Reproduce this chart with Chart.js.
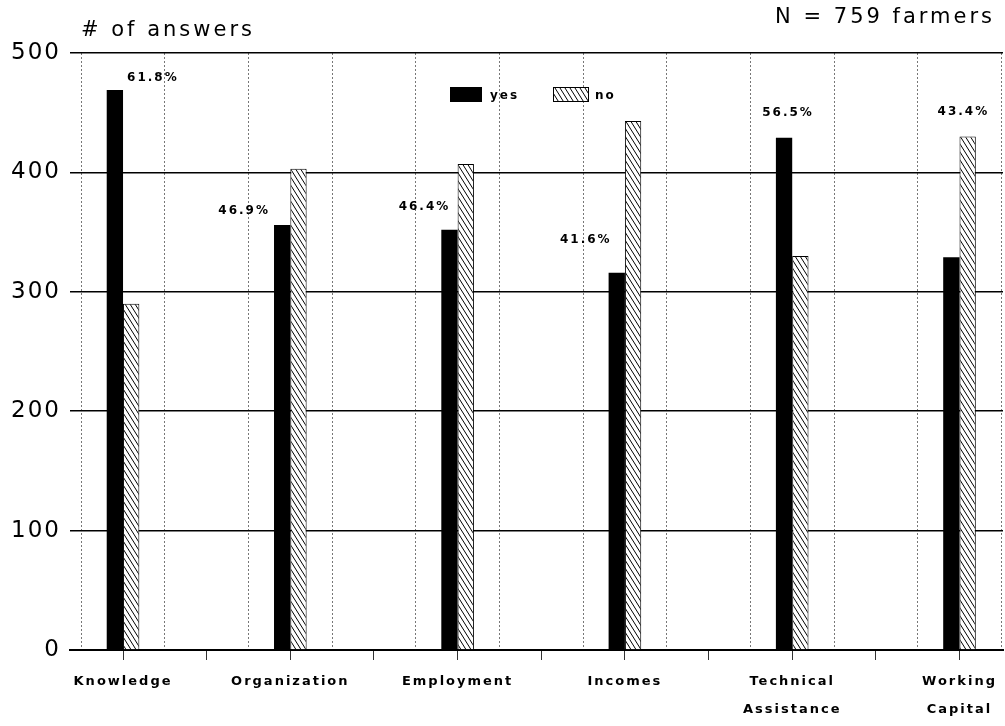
<!DOCTYPE html>
<html>
<head>
<meta charset="utf-8">
<script src="https://cdn.jsdelivr.net/npm/chart.js@4.4.1/dist/chart.umd.min.js"></script>
<style>
  html, body { margin: 0; padding: 0; background: #fff; }
  #wrap { width: 1005px; height: 726px; }
</style>
</head>
<body>
<div id="wrap"><canvas id="chart1"></canvas></div>
<script>
// Chart Data
const categories = ['Knowledge', 'Organization', 'Employment', 'Incomes', ['Technical', 'Assistance'], ['Working', 'Capital']];
const yesValues = [469, 356, 352, 316, 429, 329];
const noValues = [290, 403, 407, 443, 330, 430];
const yesShare = ['61.8%', '46.9%', '46.4%', '41.6%', '56.5%', '43.4%'];
const yTicks = [0, 100, 200, 300, 400, 500];
const yTitle = '# of answers';
const sampleNote = 'N = 759 farmers';

// label offsets from the top of each "yes" bar (px)
const shareOffsets = [[38, -12], [-38, -14], [-25, -23], [-31, -33], [4, -25], [12, -145]];

const FONT = 'DejaVu Sans';
const X_MIN = -0.317;
const X_MAX = 5.26;

function hatchPattern() {
    const c = document.createElement('canvas');
    c.width = 5;
    c.height = 8;
    const g = c.getContext('2d');
    g.fillStyle = '#fff';
    g.fillRect(0, 0, 5, 8);
    g.strokeStyle = '#000';
    g.lineWidth = 1;
    g.beginPath();
    g.moveTo(-5, -8); g.lineTo(10, 16);
    g.moveTo(-10, -8); g.lineTo(5, 16);
    g.moveTo(0, -8); g.lineTo(15, 16);
    g.stroke();
    return g.createPattern(c, 'repeat');
}

const noFill = hatchPattern();

function stepTicks(from, to, step) {
    const out = [];
    for (let v = from; v <= to + 1e-9; v += step) out.push({ value: Math.round(v * 100) / 100 });
    return out;
}

const overlay = {
    id: 'overlay',
    beforeDraw(chart) {
        chart.ctx.letterSpacing = '2px';
    },
    afterDatasetsDraw(chart) {
        const ctx = chart.ctx;
        const meta = chart.getDatasetMeta(0);
        ctx.save();
        ctx.fillStyle = '#000';
        ctx.font = 'bold 12px ' + FONT;
        ctx.textAlign = 'center';
        ctx.textBaseline = 'middle';
        meta.data.forEach((bar, i) => {
            ctx.fillText(yesShare[i], bar.x + shareOffsets[i][0], bar.y + shareOffsets[i][1]);
        });
        ctx.restore();
    },
    afterDraw(chart) {
        const ctx = chart.ctx;
        const area = chart.chartArea;
        ctx.save();
        ctx.fillStyle = '#000';
        ctx.textBaseline = 'middle';
        ctx.letterSpacing = '3px';
        ctx.font = '21px ' + FONT;
        ctx.textAlign = 'left';
        ctx.fillText(yTitle, area.left + 11, area.top - 22);
        ctx.textAlign = 'right';
        ctx.fillText(sampleNote, area.right - 8, area.top - 35);

        // legend
        ctx.letterSpacing = '2px';
        const ds = chart.data.datasets;
        const lx = area.left + 380;
        const ly = area.top + 34;
        ctx.font = 'bold 12px ' + FONT;
        ctx.textAlign = 'left';
        ctx.fillStyle = ds[0].backgroundColor;
        ctx.fillRect(lx, ly, 32, 15);
        ctx.fillStyle = '#000';
        ctx.fillText(ds[0].label, lx + 40, ly + 9);
        ctx.fillStyle = ds[1].backgroundColor;
        ctx.fillRect(lx + 103, ly, 36, 15);
        ctx.strokeStyle = '#000';
        ctx.lineWidth = 1;
        ctx.strokeRect(lx + 103.5, ly + 0.5, 35, 14);
        ctx.fillStyle = '#000';
        ctx.fillText(ds[1].label, lx + 145, ly + 9);
        ctx.restore();
    }
};

const ctx = document.getElementById('chart1').getContext('2d');
const chart1 = new Chart(ctx, {
    type: 'bar',
    data: {
        datasets: [
            {
                label: 'yes',
                data: yesValues.map((v, i) => ({ x: i, y: v })),
                backgroundColor: '#000',
                borderWidth: 0,
            },
            {
                label: 'no',
                data: noValues.map((v, i) => ({ x: i, y: v })),
                backgroundColor: noFill,
                borderColor: '#000',
                borderWidth: 1,
            }
        ],
    },
    options: {
        responsive: true,
        maintainAspectRatio: false,
        animation: false,
        devicePixelRatio: 1,
        // ruler is the 0.5-step tick spacing here, so this gives ~16px per bar
        categoryPercentage: 0.39,
        barPercentage: 1,
        layout: {
            padding: { top: 53, right: 2, left: 0, bottom: 0 },
        },
        plugins: {
            legend: { display: false },
            tooltip: { enabled: false },
        },
        scales: {
            x: {
                type: 'linear',
                position: 'bottom',
                offset: false,
                min: X_MIN,
                max: X_MAX,
                afterBuildTicks: s => { s.ticks = stepTicks(0, 5, 0.5); },
                afterFit: s => { s.height = 76; s.paddingLeft = 0; s.paddingRight = 0; },
                grid: {
                    offset: false,
                    drawOnChartArea: false,
                    drawTicks: true,
                    tickLength: 10,
                    tickColor: '#333',
                    tickWidth: 1,
                },
                border: { display: true, color: '#000', width: 2 },
                ticks: {
                    autoSkip: false,
                    maxRotation: 0,
                    minRotation: 0,
                    padding: 8,
                    color: '#000',
                    font: { family: FONT, size: 13, weight: 'bold', lineHeight: 28 / 13 },
                    callback: v => Number.isInteger(v) ? categories[v] : '',
                },
            },
            xGrid: {
                type: 'linear',
                position: 'bottom',
                offset: false,
                min: X_MIN,
                max: X_MAX,
                afterBuildTicks: s => { s.ticks = stepTicks(-0.25, 5.25, 0.5); },
                afterFit: s => { s.height = 0; s.paddingLeft = 0; s.paddingRight = 0; },
                ticks: { display: false },
                grid: { offset: false, color: '#777', lineWidth: 1, drawTicks: false, borderDash: [2, 2] },
                border: { display: false, dash: [2, 2] },
            },
            y: {
                min: 0,
                max: 500,
                afterBuildTicks: s => { s.ticks = yTicks.map(v => ({ value: v })); },
                afterFit: s => { s.width = 70; },
                grid: { color: '#000', lineWidth: 1.5, drawTicks: false },
                border: { display: false },
                ticks: {
                    padding: 9,
                    color: '#000',
                    font: { family: FONT, size: 23 },
                },
            },
        },
    },
    plugins: [overlay],
});
</script>
</body>
</html>
